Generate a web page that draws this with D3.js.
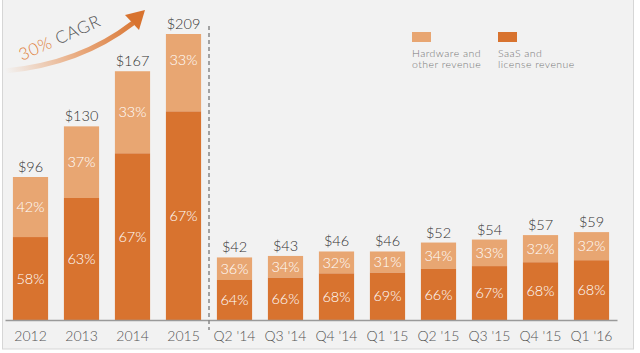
<!DOCTYPE html>
<html><head><meta charset="utf-8">
<script src="https://cdn.jsdelivr.net/npm/d3@7"></script>
<style>html,body{margin:0;padding:0;background:#fff;}svg{display:block;font-family:Lato,"Open Sans",sans-serif;font-weight:300;}</style>
</head><body><svg id="c" width="640" height="353"></svg>
<script>
const categories = ["2012","2013","2014","2015","Q2 '14","Q3 '14","Q4 '14","Q1 '15","Q2 '15","Q3 '15","Q4 '15","Q1 '16"];
const totals = [96,130,167,209,42,43,46,46,52,54,57,59];
const saasPct = [58,63,67,67,64,66,68,69,66,67,68,68];
const hwPct = [42,37,33,33,36,34,32,31,34,33,32,32];
const legendLabels = [["Hardware and","other revenue"],["SaaS and","license revenue"]];
const colLight = "#e8a672", colDark = "#d8732f";

const svg = d3.select("#c");
svg.append("rect").attr("x",2.5).attr("y",-1).attr("width",631).attr("height",350).attr("fill","#f2f2f2").attr("stroke","#d6d6d6");

const x = d3.scaleBand().domain(categories).range([5,617]).paddingInner(0.31).paddingOuter(0.155);
const y = d3.scaleLinear().domain([0,192]).range([320,34]);
const yBar = y.copy().clamp(true);

const data = categories.map((c,i)=>({c,total:totals[i],saas:totals[i]*saasPct[i]/100,sp:saasPct[i],hp:hwPct[i]}));

const g = svg.append("g");
g.selectAll(".hw").data(data).join("rect").attr("x",d=>x(d.c)).attr("width",x.bandwidth())
  .attr("y",d=>yBar(d.total)).attr("height",d=>y(d.saas)-yBar(d.total)).attr("fill",colLight);
g.selectAll(".sa").data(data).join("rect").attr("x",d=>x(d.c)).attr("width",x.bandwidth())
  .attr("y",d=>y(d.saas)).attr("height",d=>y(0)-y(d.saas)).attr("fill",colDark);

const pctFont = 14.5;
g.selectAll(".ph").data(data).join("text").attr("x",d=>x(d.c)+x.bandwidth()/2)
  .attr("y",d=>(y(d.total)+y(d.saas))/2).attr("dy","0.35em").attr("text-anchor","middle")
  .attr("fill","#fff").attr("font-size",pctFont).text(d=>d.hp+"%");
g.selectAll(".ps").data(data).join("text").attr("x",d=>x(d.c)+x.bandwidth()/2)
  .attr("y",d=>(y(0)+y(d.saas))/2).attr("dy","0.35em").attr("text-anchor","middle")
  .attr("fill","#fff").attr("font-size",pctFont).text(d=>d.sp+"%");
g.selectAll(".tv").data(data).join("text").attr("x",d=>x(d.c)+x.bandwidth()/2)
  .attr("y",d=>yBar(d.total)-5).attr("text-anchor","middle")
  .attr("fill","#333").attr("font-size",14.5).text(d=>"$"+d.total);

const ax = svg.append("g").attr("transform","translate(0,320)").call(d3.axisBottom(x).tickSize(0).tickPadding(11));
ax.select(".domain").attr("stroke","#9a9a9a").attr("stroke-width",1.5);
ax.selectAll("text").attr("font-size",14).attr("fill","#555").attr("font-family","Lato,'Open Sans',sans-serif").attr("font-weight",300);

const xd = (x("2015")+x.bandwidth()+x("Q2 '14"))/2;
svg.append("line").attr("x1",xd).attr("x2",xd).attr("y1",26).attr("y2",330)
  .attr("stroke","#888").attr("stroke-width",1.5).attr("stroke-dasharray","4,3");

const defs = svg.append("defs");
const lg = defs.append("linearGradient").attr("id","ag").attr("gradientUnits","userSpaceOnUse")
  .attr("x1",5).attr("y1",70).attr("x2",140).attr("y2",15);
lg.append("stop").attr("offset",0).attr("stop-color","#f2f2f2");
lg.append("stop").attr("offset",0.5).attr("stop-color","#e9ab80");
lg.append("stop").attr("offset",1).attr("stop-color",colDark);
svg.append("path").attr("d","M5,71 Q80,64 133,23").attr("fill","none").attr("stroke","url(#ag)").attr("stroke-width",5);
svg.append("path").attr("d","M145,10 L139,30 L125,15 Z").attr("fill",colDark);
const ct = svg.append("text").attr("transform","translate(22,61) rotate(-24)").attr("font-size",17).attr("letter-spacing",0.6);
ct.append("tspan").attr("fill","#e07f3a").text("30% ");
ct.append("tspan").attr("fill","#555").text("CAGR");

const legX = [412,498];
const legCols = [colLight,colDark];
legX.forEach((lx,i)=>{
  svg.append("rect").attr("x",lx).attr("y",32).attr("width",19).attr("height",10).attr("fill",legCols[i]);
  const t = svg.append("text").attr("x",lx).attr("y",57).attr("font-size",10.5).attr("letter-spacing",0.45).attr("fill","#777");
  legendLabels[i].forEach((s,j)=>t.append("tspan").attr("x",lx).attr("dy",j?10.5:0).text(s));
});
</script></body></html>
